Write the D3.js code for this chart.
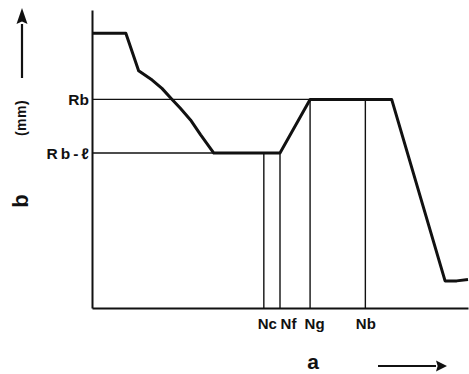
<!DOCTYPE html>
<html>
<head>
<meta charset="utf-8">
<script src="https://cdn.jsdelivr.net/npm/d3@7"></script>
<style>
  html, body { margin: 0; padding: 0; background: #fff; }
  svg { display: block; }
  text { font-family: "Liberation Sans", Arial, Helvetica, sans-serif; fill: #111; }
</style>
</head>
<body>
<svg id="chart" width="469" height="374"></svg>
<script>
// Profile of b against a (arbitrary units, 0–100 on both axes)
const profileA = [0, 9.0, 12.4, 16.0, 18.6, 21.3, 23.5, 26.2, 28.9, 32.4, 50.0, 58.0, 79.7, 93.9, 97.0, 100];
const profileB = [92.2, 92.2, 79.6, 76.5, 73.7, 70.0, 67.0, 63.1, 58.1, 52.0, 52.0, 70.0, 70.0, 9.1, 9.1, 9.6];

// Reference levels on the b axis
const levelNames = ["Rb", "Rb-ℓ"];
const levelValues = [70.0, 52.0];

// Marked positions on the a axis and the level each drop line reaches
const markNames = ["Nc", "Nf", "Ng", "Nb"];
const markValues = [45.7, 50.0, 58.0, 72.7];
const markTops = [52.0, 52.0, 70.0, 70.0];

const axisTitleX = "a";
const axisTitleY = "b";
const axisUnitY = "(mm)";

const svg = d3.select("#chart");
const margin = { left: 92, top: 10, right: 1, bottom: 66 };
const W = +svg.attr("width"), H = +svg.attr("height");

const x = d3.scaleLinear().domain([0, 100]).range([margin.left, W - margin.right]);
const y = d3.scaleLinear().domain([0, 100]).range([H - margin.bottom, margin.top]);

const ink = "#111";

// thin guide lines: level lines out from the b axis, drop lines up from the a axis
const levelReach = [58.0, 32.4];
svg.append("g").selectAll("line").data(levelValues).join("line")
  .attr("x1", x(0)).attr("x2", (d, i) => x(levelReach[i]))
  .attr("y1", d => y(d)).attr("y2", d => y(d))
  .attr("stroke", ink).attr("stroke-width", 1.4);

svg.append("g").selectAll("line").data(markValues).join("line")
  .attr("x1", d => x(d)).attr("x2", d => x(d))
  .attr("y1", y(0)).attr("y2", (d, i) => y(markTops[i]))
  .attr("stroke", ink).attr("stroke-width", 1.4);

// axes
const yAxis = d3.axisLeft(y).tickValues(levelValues).tickSize(0).tickPadding(3)
  .tickFormat((d, i) => levelNames[i]);
const gy = svg.append("g").attr("transform", `translate(${x(0)},0)`).call(yAxis);
gy.select(".domain").attr("stroke", ink).attr("stroke-width", 2);
gy.selectAll(".tick text").attr("font-size", 15.5).attr("font-weight", "bold").attr("fill", ink)
  .attr("font-family", "Liberation Sans, Arial, sans-serif")
  .attr("letter-spacing", (d, i) => i === 1 ? 3 : 0)
  .attr("dx", (d, i) => i === 1 ? 3 : 0);

const xAxis = d3.axisBottom(x).tickValues(markValues).tickSize(0).tickPadding(10)
  .tickFormat((d, i) => markNames[i]);
const gx = svg.append("g").attr("transform", `translate(0,${y(0)})`).call(xAxis);
gx.select(".domain").attr("stroke", ink).attr("stroke-width", 2);
const labelShift = [3, 8, 4, 0];
gx.selectAll(".tick text").attr("font-size", 15).attr("font-weight", "bold").attr("fill", ink)
  .attr("font-family", "Liberation Sans, Arial, sans-serif")
  .attr("dx", (d, i) => labelShift[i]);

// the profile itself
const line = d3.line().x(d => x(d[0])).y(d => y(d[1]));
svg.append("path")
  .datum(profileA.map((a, i) => [a, profileB[i]]))
  .attr("d", line)
  .attr("fill", "none").attr("stroke", ink).attr("stroke-width", 3)
  .attr("stroke-linejoin", "round");

// axis titles with direction arrows
function arrow(x1, y1, x2, y2, head, half) {
  const g = svg.append("g");
  const ang = Math.atan2(y2 - y1, x2 - x1);
  const bx = x2 - head * Math.cos(ang), by = y2 - head * Math.sin(ang);
  g.append("line").attr("x1", x1).attr("y1", y1).attr("x2", bx).attr("y2", by)
    .attr("stroke", ink).attr("stroke-width", 2.2);
  const px = -Math.sin(ang) * half, py = Math.cos(ang) * half;
  g.append("path")
    .attr("d", `M${x2},${y2}L${bx + px},${by + py}L${bx + (x2 - bx) * 0.15},${by + (y2 - by) * 0.15}L${bx - px},${by - py}Z`)
    .attr("fill", ink);
}

arrow(22, 78, 22, 8, 16, 5.5);
svg.append("text").attr("transform", "translate(26,118) rotate(-90)")
  .attr("text-anchor", "middle").attr("font-size", 14)
  .attr("font-weight", "bold").attr("letter-spacing", 0.5)
  .text(axisUnitY);
svg.append("text").attr("transform", "translate(28,201) rotate(-90)")
  .attr("text-anchor", "middle").attr("font-size", 22).attr("font-weight", "bold")
  .text(axisTitleY);

svg.append("text").attr("x", 313).attr("y", 369)
  .attr("text-anchor", "middle").attr("font-size", 21).attr("font-weight", "bold")
  .text(axisTitleX);
arrow(378, 366, 447, 366, 11, 5.5);
</script>
</body>
</html>
